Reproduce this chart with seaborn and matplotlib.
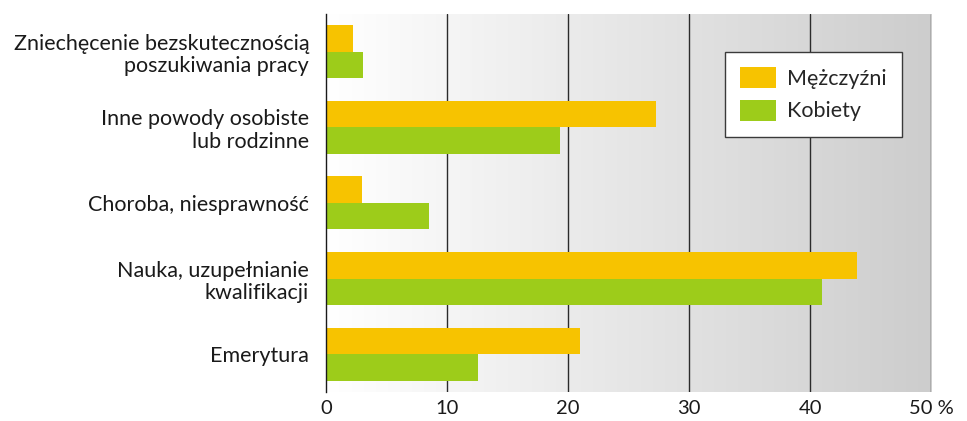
import numpy as np
import pandas as pd
import matplotlib
matplotlib.use('Agg')
import matplotlib.pyplot as plt
from matplotlib.colors import LinearSegmentedColormap
import seaborn as sns

# reasons for economic inactivity, % of people
categories = ['Zniechęcenie bezskutecznością\nposzukiwania pracy',
              'Inne powody osobiste\nlub rodzinne',
              'Choroba, niesprawność',
              'Nauka, uzupełnianie\nkwalifikacji',
              'Emerytura']
men = [2.2, 27.3, 3.0, 43.9, 21.0]
women = [3.1, 19.3, 8.5, 41.0, 12.6]
series_names = ['Mężczyźni', 'Kobiety']
tick_values = [0, 10, 20, 30, 40, 50]
tick_labels = ['0', '10', '20', '30', '40', '50 %']

df = pd.DataFrame({
    'kategoria': categories * 2,
    'wartosc': men + women,
    'plec': [series_names[0]] * len(categories) + [series_names[1]] * len(categories),
})

sns.set_style('white')
plt.rcParams['font.family'] = ['Lato', 'DejaVu Sans']

fig = plt.figure(figsize=(9.67, 4.21), dpi=100)
ax = fig.add_axes([0.337, 0.069, 0.626, 0.898])

# gradient background, white on the left to grey on the right
grad_cmap = LinearSegmentedColormap.from_list('bg', ['#ffffff', '#cdcdcd'])
ax.imshow(np.linspace(0, 1, 256).reshape(1, -1), cmap=grad_cmap, aspect='auto',
          extent=[0, 50, len(categories) - 0.5, -0.5], zorder=0)

for v in tick_values[1:]:
    ax.axvline(v, color='#2b2b2b', linewidth=1.0, zorder=1)

sns.barplot(data=df, y='kategoria', x='wartosc', hue='plec', orient='h',
            palette=['#f7c300', '#9dcc1a'], width=0.7, saturation=1,
            linewidth=0, ax=ax, zorder=2)

ax.set_xlim(0, 50)
ax.set_ylim(len(categories) - 0.5, -0.5)
ax.set_xticks(tick_values)
ax.set_xticklabels(tick_labels)
ax.set_xlabel('')
ax.set_ylabel('')
ax.tick_params(axis='both', length=0, colors='#1a1a1a')
ax.tick_params(axis='y', pad=12, labelsize=15.5)
ax.tick_params(axis='x', pad=6, labelsize=14.5)
for lbl in ax.get_yticklabels():
    lbl.set_horizontalalignment('right')
    lbl.set_multialignment('right')
    lbl.set_linespacing(1.15)

for side in ['top', 'right', 'bottom']:
    ax.spines[side].set_visible(False)
ax.spines['left'].set_color('#1a1a1a')
ax.spines['left'].set_linewidth(1.0)
ax.spines['left'].set_zorder(3)

leg = ax.legend(loc='upper left', bbox_to_anchor=(0.659, 0.90), frameon=True,
                fancybox=False, fontsize=15.5, handlelength=1.7, handleheight=1.15,
                borderpad=0.7, labelspacing=0.5, handletextpad=0.5,
                borderaxespad=0)
leg.get_frame().set_edgecolor('#3a3a3a')
leg.get_frame().set_facecolor('white')
leg.get_frame().set_alpha(1)
leg.get_frame().set_linewidth(1.0)

plt.savefig('out.png', dpi=100)
